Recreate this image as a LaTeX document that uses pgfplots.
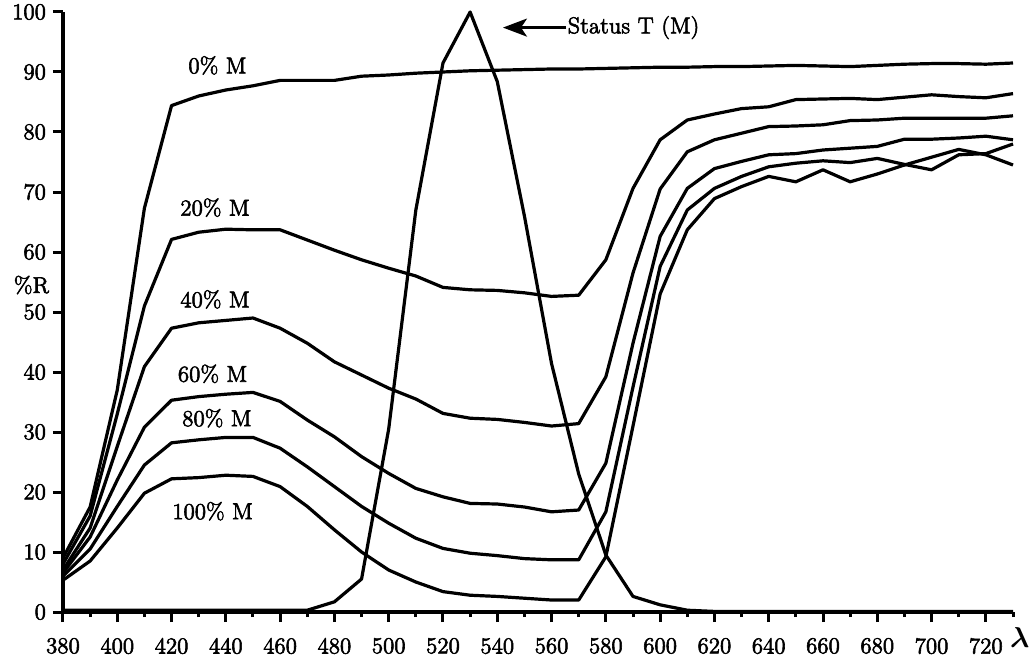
\documentclass[border=0pt]{standalone}
\usepackage{amsmath}
\usepackage{fontspec}
\usepackage{pgfplots}
\usepackage{pgfplotstable}
\pgfplotsset{compat=1.18}
\usetikzlibrary{arrows.meta}

\newfontfamily\heavy{Latin Modern Roman}[FakeBold=2.5]

% reflectance (%R) of magenta patches and the Status T (M) response
\pgfplotstableread{
lam  m0    m20   m40   m60   m80   m100  T
380  9.0   8.0   7.0   6.5   6.0   5.3   0.3
390  17.5  16.0  14.0  12.5  10.5  8.5   0.3
400  37.0  33.0  27.6  22.0  17.6  14.0  0.3
410  67.3  51.0  40.9  30.8  24.5  19.8  0.3
420  84.4  62.1  47.3  35.3  28.2  22.2  0.3
430  86.0  63.3  48.2  35.9  28.7  22.4  0.3
440  87.0  63.8  48.6  36.3  29.1  22.8  0.3
450  87.7  63.7  49.0  36.6  29.1  22.6  0.3
460  88.6  63.7  47.3  35.1  27.3  20.9  0.3
470  88.6  62.0  44.8  32.0  24.2  17.6  0.3
480  88.6  60.3  41.7  29.2  20.9  13.7  1.7
490  89.3  58.7  39.5  25.9  17.6  10.0  5.5
500  89.5  57.3  37.3  23.1  14.8  7.0   30.5
510  89.8  56.0  35.5  20.6  12.3  5.0   67.0
520  90.0  54.1  33.1  19.2  10.6  3.4   91.5
530  90.2  53.7  32.3  18.1  9.8   2.8   100.0
540  90.3  53.6  32.1  18.0  9.4   2.6   88.4
550  90.4  53.2  31.6  17.5  8.9   2.3   66.0
560  90.5  52.6  31.0  16.7  8.7   2.0   41.4
570  90.5  52.8  31.4  17.0  8.7   2.0   23.0
580  90.6  58.7  39.2  24.8  16.7  9.2   9.5
590  90.7  70.6  56.5  44.8  37.5  31.0  2.6
600  90.8  78.7  70.5  62.6  57.6  53.0  1.2
610  90.8  82.0  76.7  70.6  67.0  63.7  0.3
620  90.9  83.0  78.7  73.9  70.6  68.9  0.1
630  90.9  83.9  79.8  75.1  72.6  70.9  0.1
640  91.0  84.2  80.9  76.2  74.2  72.6  0.1
650  91.1  85.4  81.0  76.4  74.8  71.7  0.1
660  91.0  85.5  81.2  77.0  75.2  73.7  0.1
670  90.9  85.6  81.9  77.3  74.9  71.7  0.1
680  91.1  85.4  82.0  77.6  75.6  73.0  0.1
690  91.3  85.8  82.3  78.8  74.6  74.5  0.1
700  91.4  86.2  82.3  78.8  73.7  75.8  0.1
710  91.4  85.9  82.3  79.0  76.2  77.1  0.1
720  91.3  85.7  82.3  79.3  76.4  76.2  0.1
730  91.5  86.4  82.7  78.7  78.0  74.5  0.1
}\spectra

\newcommand{\lbl}{\heavy\fontsize{11.5}{13}\selectfont}

\begin{document}
\begin{tikzpicture}
\begin{axis}[
    scale only axis,
    width=475bp, height=300bp,
    xmin=380, xmax=730, ymin=0, ymax=100,
    axis x line*=bottom, axis y line*=left,
    axis line style={line width=2bp},
    xtick={380,400,...,720},
    minor xtick={390,410,...,730},
    ytick={0,10,...,100},
    tick align=outside,
    major tick length=5bp, minor tick length=2.5bp,
    every tick/.style={black, line width=1.5bp},
    tick label style={font=\lbl},
    xticklabel style={yshift=-4.5bp},
    /pgf/number format/assume math mode=true,
    /pgf/number format/1000 sep={},
    clip=false,
    cycle list={{black, solid}},
    every axis plot/.append style={line width=1.6bp, line join=round, no marks},
]
\addplot table[x=lam, y=m0]   {\spectra};
\addplot table[x=lam, y=m20]  {\spectra};
\addplot table[x=lam, y=m40]  {\spectra};
\addplot table[x=lam, y=m60]  {\spectra};
\addplot table[x=lam, y=m80]  {\spectra};
\addplot table[x=lam, y=m100] {\spectra};
\addplot table[x=lam, y=T]    {\spectra};

\node[font=\lbl] at (axis cs:436.9,91.1) {0\% M};
\node[font=\lbl] at (axis cs:436.0,67.4) {20\% M};
\node[font=\lbl] at (axis cs:436.0,52.1) {40\% M};
\node[font=\lbl] at (axis cs:435.1,39.7) {60\% M};
\node[font=\lbl] at (axis cs:436.7,32.3) {80\% M};
\node[font=\lbl] at (axis cs:435.1,16.8) {100\% M};

\draw[-{Stealth[length=12bp,width=9bp,inset=3bp]}, line width=1.3bp]
    (axis cs:565.5,97.4) -- (axis cs:542.1,97.4);
\node[font=\lbl, anchor=west, inner sep=0pt] at (axis cs:565.8,97.4) {Status T (M)};

\node[font=\lbl] at (axis cs:368.4,54.5) {\%R};
\node[font=\fontsize{14}{16}\selectfont] at (axis cs:732.5,-4.3) {$\boldsymbol{\lambda}$};

\coordinate (bbl) at (axis cs:356.8,-8);
\coordinate (btr) at (axis cs:737,102);
\end{axis}
\pgfresetboundingbox
\path[use as bounding box] (bbl) rectangle (btr);
\end{tikzpicture}
\end{document}
